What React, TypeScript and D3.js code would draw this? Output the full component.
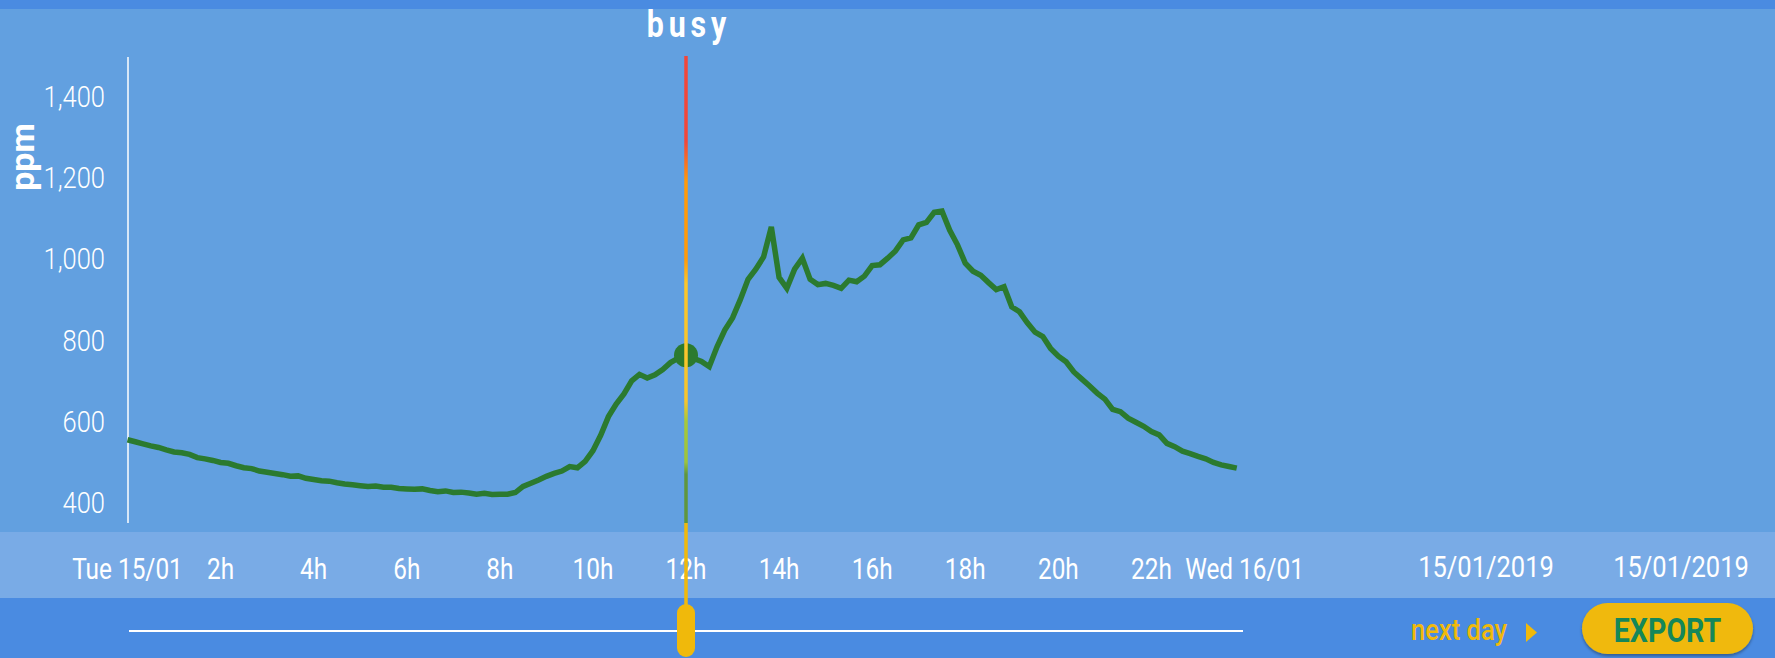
import * as d3 from 'd3'

// CO2 readings every 10 minutes, Tue 15/01/2019 00:00 -> 23:50 (one row per hour)
const ppm = [
  555, 550, 545, 540, 536, 530,
  525, 523, 519, 511, 508, 504,
  499, 497, 491, 486, 484, 478,
  475, 472, 469, 465, 466, 460,
  457, 454, 453, 449, 446, 444,
  442, 440, 441, 438, 438, 435,
  434, 433, 434, 430, 427, 429,
  425, 426, 424, 421, 423, 420,
  421, 421, 425, 440, 448, 456,
  465, 472, 478, 489, 486, 502,
  528, 566, 612, 643, 668, 700,
  716, 707, 715, 728, 745, 756,
  763, 755, 748, 735, 784, 825,
  855, 900, 950, 975, 1005, 1079,
  955, 928, 975, 1002, 950, 937,
  940, 935, 928, 948, 944, 958,
  984, 986, 1002, 1020, 1047, 1052,
  1084, 1090, 1115, 1118, 1071, 1035,
  990, 970, 960, 942, 925, 932,
  882, 870, 843, 820, 809, 780,
  761, 747, 722, 705, 688, 670,
  655, 630, 624, 608, 598, 588,
  575, 567, 546, 538, 527, 521,
  514, 508, 499, 493, 489, 485,
]
const stepMinutes = 10
const dayStart = new Date(2019, 0, 15)
const dayEnd = new Date(2019, 0, 16)
const cursorTime = new Date(2019, 0, 15, 12)
const cursorLabel = 'busy'
const yTicks = [400, 600, 800, 1000, 1200, 1400]
const yDomain = [350, 1500]
const dateLabels = ['15/01/2019', '15/01/2019']

const readings = ppm.map((v, i) => ({ t: d3.timeMinute.offset(dayStart, i * stepMinutes), v }))

function App() {
  const width = 1775
  const height = 658
  const font = 'Roboto, "Open Sans", sans-serif'
  const yellow = '#f0b90b'
  const green = '#2b7a2f'

  const x = d3.scaleTime().domain([dayStart, dayEnd]).range([127.5, 1244.5])
  const y = d3.scaleLinear().domain(yDomain).range([523, 56])

  const line: any = d3.line<any>().x(d => x(d.t)).y(d => y(d.v))
  const xTicks = x.ticks(d3.timeHour.every(2) as any)
  const fmtDay = d3.timeFormat('%a %d/%m')
  const fmtTick = (d: Date) => (d.getHours() === 0 ? fmtDay(d) : `${d.getHours()}h`)

  const cx = x(cursorTime)
  const cursorValue = readings.find(r => +r.t === +cursorTime)!.v

  // level colours along the cursor, by ppm value
  const levelStops: [number, string][] = [
    [1500, '#f2463a'], [1290, '#f2463a'], [1190, '#ff9a0a'], [1000, '#ff9a0a'],
    [940, '#fcc62a'], [650, '#f7c52d'], [600, '#a6c83a'], [500, '#9cc43c'],
    [470, '#5f963c'], [350, '#5f963c'],
  ]
  const y0 = y(yDomain[1])
  const y1 = y(yDomain[0])

  return (
    <svg width={width} height={height} style={{ position: 'absolute', left: 0, top: 0 }} fontFamily={font}>
      <defs>
        <linearGradient id="level" gradientUnits="userSpaceOnUse" x1={0} x2={0} y1={y0} y2={y1}>
          {levelStops.map(([v, c], i) => (
            <stop key={i} offset={(y(v) - y0) / (y1 - y0)} stopColor={c} />
          ))}
        </linearGradient>
        <filter id="shadow" x="-10%" y="-20%" width="120%" height="160%">
          <feDropShadow dx="0" dy="2" stdDeviation="1.5" floodColor="#000" floodOpacity="0.35" />
        </filter>
      </defs>

      <rect x={0} y={0} width={width} height={9} fill="#4a8be1" />
      <rect x={0} y={9} width={width} height={523} fill="#62a0e0" />
      <rect x={0} y={532} width={width} height={66} fill="#79abe6" />
      <rect x={0} y={598} width={width} height={60} fill="#4a8be1" />

      {/* y axis */}
      <line x1={128} x2={128} y1={y0 + 1} y2={y1} stroke="#fff" strokeWidth={1.5} />
      {yTicks.map(t => (
        <text key={t} transform={`translate(105,${y(t)}) scale(0.88,1)`} dy="0.36em" textAnchor="end"
          fontSize={29} fontWeight={300} fill="#fff">{d3.format(',')(t)}</text>
      ))}
      <text transform="translate(34,157) rotate(-90)" textAnchor="middle" fontSize={34} fontWeight={700} fill="#fff">ppm</text>

      {/* x labels */}
      {xTicks.map(t => (
        <text key={+t} transform={`translate(${x(t)},579) scale(0.84,1)`} textAnchor="middle"
          fontSize={29} fontWeight={400} fill="#fff">{fmtTick(t)}</text>
      ))}
      {dateLabels.map((d, i) => (
        <text key={i} transform={`translate(${1486 + i * 195},577) scale(0.88,1)`} textAnchor="middle"
          fontSize={29} fontWeight={400} fill="#fff">{d}</text>
      ))}

      {/* data */}
      <path d={line(readings)} fill="none" stroke={green} strokeWidth={5.5} strokeLinejoin="miter" />
      <circle cx={cx} cy={y(cursorValue)} r={12} fill={green} />

      {/* cursor */}
      <text transform={`translate(${cx + 3},37) scale(0.82,1)`} textAnchor="middle" fontSize={37} fontWeight={700}
        letterSpacing={6} fill="#fff">{cursorLabel}</text>
      <line x1={cx} x2={cx} y1={y0} y2={y1} stroke="url(#level)" strokeWidth={3.5} />
      <line x1={cx} x2={cx} y1={y1} y2={606} stroke={yellow} strokeWidth={3.5} />

      {/* slider */}
      <line x1={129} x2={1243} y1={631} y2={631} stroke="#fff" strokeWidth={2} />
      <rect x={cx - 9} y={604} width={18} height={53} rx={9} fill={yellow} />

      {/* controls */}
      <text transform="translate(1411,640) scale(0.88,1)" fontSize={29} fontWeight={500} fill={yellow}>next day</text>
      <path d="M1526,623L1537,632.5L1526,642Z" fill={yellow} />
      <rect x={1582} y={603} width={171} height={51} rx={25.5} fill={yellow} filter="url(#shadow)" />
      <text transform="translate(1667.5,642) scale(0.84,1)" textAnchor="middle" fontSize={34} fontWeight={700}
        fill="#15875a">EXPORT</text>
    </svg>
  )
}

export default App
